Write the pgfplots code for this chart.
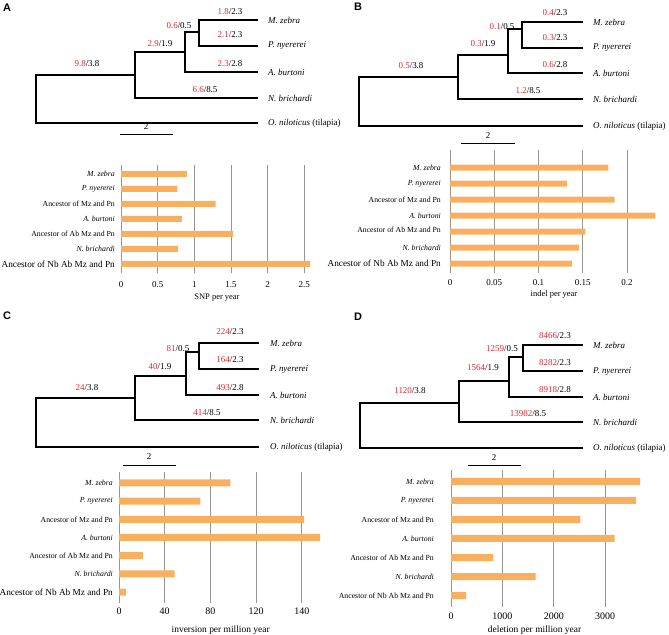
\documentclass[border=0pt]{standalone}
\usepackage{fontspec}
\setmainfont{Liberation Serif}
\newfontfamily\panelfont{Liberation Sans}
\usepackage{pgfplots}
\pgfplotsset{compat=1.18}

\definecolor{brred}{RGB}{226,38,48}
\definecolor{barfill}{RGB}{248,176,96}
\definecolor{gridgray}{RGB}{150,150,150}

% shared look of the four rate charts
\pgfplotsset{
  rates/.style={
    xbar, scale only axis, anchor=north west, clip=false,
    axis line style={draw=none}, major tick length=0pt,
    xmajorgrids, grid style={gridgray, line width=0.7bp},
    y dir=reverse, ytick={0,...,6}, xmin=0,
    yticklabel style={font=\fontsize{7.8}{9}\selectfont, inner sep=0pt},
    xticklabel style={font=\fontsize{9}{10}\selectfont, inner sep=0pt},
    /pgf/number format/assume math mode=true,
    xlabel style={font=\fontsize{8.5}{10}\selectfont, at={(axis description cs:0.5,0)}, anchor=center},
  },
  tree/.style={black, line width=1.2bp, unbounded coords=jump, mark=none, line join=miter},
}
\newcommand{\bl}[4]{\node[font=\fontsize{9}{10}\selectfont] at (axis cs:#1,#2) {\textcolor{brred}{#3}/#4};}
\newcommand{\tip}[3]{\node[font=\fontsize{9}{10}\selectfont, anchor=west, inner sep=0pt] at (axis cs:#1,#2) {#3};}
\newcommand{\biglab}[1]{{\fontsize{9.3}{10}\selectfont #1}}

\begin{document}
\begin{tikzpicture}
\path[use as bounding box] (0,0) rectangle (669bp,635bp);

% canvas for the four trees, pixel coordinates
\begin{axis}[at={(0,0)}, anchor=south west, scale only axis, width=669bp, height=635bp,
  xmin=0, xmax=669, ymin=0, ymax=635, y dir=reverse, hide axis, clip=false]
\addplot[tree] coordinates {(258,123)(36,123)(36,75)(135,75) (nan,nan)
  (258,98)(135,98)(135,52)(185,52) (nan,nan) (258,72)(185,72)(185,32)(199,32) (nan,nan)
  (258,46)(199,46)(199,20)(258,20)};
\addplot[tree] coordinates {(583,126)(359,126)(359,77)(458,77) (nan,nan)
  (583,99)(458,99)(458,55)(508,55) (nan,nan) (583,73)(508,73)(508,29)(522,29) (nan,nan)
  (583,48)(522,48)(522,22)(583,22)};
\addplot[tree] coordinates {(259,447)(36,447)(36,398)(135,398) (nan,nan)
  (259,420)(135,420)(135,376)(186,376) (nan,nan) (259,395)(186,395)(186,352)(199,352) (nan,nan)
  (259,369)(199,369)(199,343)(259,343)};
\addplot[tree] coordinates {(583,448)(360,448)(360,403)(459,403) (nan,nan)
  (583,422)(459,422)(459,381)(509,381) (nan,nan) (583,397)(509,397)(509,357)(523,357) (nan,nan)
  (583,371)(523,371)(523,345)(583,345)};
% scale bars
\addplot[black, line width=1bp] coordinates {(120,135)(173,135)};
\addplot[black, line width=1bp] coordinates {(461,144)(515,144)};
\addplot[black, line width=1bp] coordinates {(123,465)(176,465)};
\addplot[black, line width=1bp] coordinates {(468,465)(521,465)};
\node[font=\fontsize{9}{10}\selectfont] at (axis cs:146,127) {2};
\node[font=\fontsize{9}{10}\selectfont] at (axis cs:488,136) {2};
\node[font=\fontsize{9}{10}\selectfont] at (axis cs:149,457) {2};
\node[font=\fontsize{9}{10}\selectfont] at (axis cs:494,458) {2};

% panel letters
\node[font=\panelfont\fontsize{11}{12}\bfseries\selectfont] at (axis cs:7,8) {A};
\node[font=\panelfont\fontsize{11}{12}\bfseries\selectfont] at (axis cs:358,7) {B};
\node[font=\panelfont\fontsize{11}{12}\bfseries\selectfont] at (axis cs:7,316) {C};
\node[font=\panelfont\fontsize{11}{12}\bfseries\selectfont] at (axis cs:358,317) {D};

% tree A
\tip{268}{20}{\textit{M. zebra}} \tip{268}{46}{\textit{P. nyererei}}
\tip{268}{72}{\textit{A. burtoni}} \tip{268}{98}{\textit{N. brichardi}}
\tip{268}{123}{\textit{O. niloticus} (tilapia)}
\bl{230}{12}{1.8}{2.3} \bl{230}{35}{2.1}{2.3} \bl{230}{64}{2.3}{2.8}
\bl{205}{90}{6.6}{8.5} \bl{179}{26}{0.6}{0.5} \bl{160}{44}{2.9}{1.9} \bl{87}{64}{9.8}{3.8}
% tree B
\tip{593}{22}{\textit{M. zebra}} \tip{593}{48}{\textit{P. nyererei}}
\tip{593}{73}{\textit{A. burtoni}} \tip{593}{99}{\textit{N. brichardi}}
\tip{593}{126}{\textit{O. niloticus} (tilapia)}
\bl{555}{13}{0.4}{2.3} \bl{555}{38}{0.3}{2.3} \bl{555}{65}{0.6}{2.8}
\bl{528}{91}{1.2}{8.5} \bl{502}{27}{0.1}{0.5} \bl{483}{44}{0.3}{1.9} \bl{411}{66}{0.5}{3.8}
% tree C
\tip{270}{343}{\textit{M. zebra}} \tip{270}{369}{\textit{P. nyererei}}
\tip{270}{395}{\textit{A. burtoni}} \tip{270}{420}{\textit{N. brichardi}}
\tip{270}{447}{\textit{O. niloticus} (tilapia)}
\bl{230}{332}{224}{2.3} \bl{230}{360}{164}{2.3} \bl{230}{388}{493}{2.8}
\bl{207}{413}{414}{8.5} \bl{178}{349}{81}{0.5} \bl{160}{367}{40}{1.9} \bl{87}{388}{24}{3.8}
% tree D
\tip{593}{345}{\textit{M. zebra}} \tip{593}{371}{\textit{P. nyererei}}
\tip{593}{397}{\textit{A. burtoni}} \tip{593}{422}{\textit{N. brichardi}}
\tip{593}{448}{\textit{O. niloticus} (tilapia)}
\bl{555}{336}{8466}{2.3} \bl{555}{363}{8282}{2.3} \bl{555}{390}{8918}{2.8}
\bl{528}{414}{13982}{8.5} \bl{502}{349}{1259}{0.5} \bl{483}{368}{1564}{1.9} \bl{410}{391}{1120}{3.8}
\end{axis}

% A: SNP per year
\begin{axis}[rates, at={(121bp,470bp)}, width=192bp, height=108bp,
  xmax=2.62, ymin=-0.6, ymax=6.6, bar width=6bp,
  xtick={0,0.5,1,1.5,2,2.5}, xticklabels={0,0.5,1,1.5,2,2.5},
  yticklabels={\textit{M. zebra},\textit{P. nyererei},Ancestor of Mz and Pn,\textit{A. burtoni},
    Ancestor of Ab Mz and Pn,\textit{N. brichardi},\biglab{Ancestor of Nb Ab Mz and Pn}},
  yticklabel style={xshift=-6bp}, xticklabel style={yshift=-8.5bp},
  xlabel={SNP per year}, xlabel style={yshift=-25bp}]
\addplot[fill=barfill, draw=none] coordinates {(0.90,0) (0.77,1) (1.29,2) (0.83,3) (1.53,4) (0.78,5) (2.58,6)};
\end{axis}

% B: indel per year
\begin{axis}[rates, at={(450bp,485bp)}, width=208bp, height=123.2bp,
  xmax=0.235, ymin=-1.1, ymax=6.6, bar width=6bp,
  xtick={0,0.05,0.1,0.15,0.2}, xticklabels={0,0.05,0.1,0.15,0.2},
  yticklabels={\textit{M. zebra},\textit{P. nyererei},Ancestor of Mz and Pn,\textit{A. burtoni},
    \raisebox{4bp}{Ancestor of Ab Mz and Pn},\textit{N. brichardi},\biglab{Ancestor of Nb Ab Mz and Pn}},
  yticklabel style={xshift=-9bp}, xticklabel style={yshift=-6bp},
  xlabel={indel per year}, xlabel style={yshift=-21.5bp}]
\addplot[fill=barfill, draw=none] coordinates {(0.179,0) (0.132,1) (0.186,2) (0.232,3) (0.153,4) (0.146,5) (0.138,6)};
\end{axis}

% C: inversion per million year
\begin{axis}[rates, at={(119bp,163bp)}, width=203.4bp, height=131bp,
  xmax=178, ymin=-0.6, ymax=6.6, bar width=7bp,
  xtick={0,40,80,120,160}, xticklabels={0,40,80,120,140},
  xticklabel style={font=\fontsize{10}{11}\selectfont, yshift=-4.5bp},
  yticklabels={\textit{M. zebra},\textit{P. nyererei},Ancestor of Mz and Pn,\textit{A. burtoni},
    Ancestor of Ab Mz and Pn,\textit{N. brichardi},\biglab{Ancestor of Nb Ab Mz and Pn}},
  yticklabel style={xshift=-6bp},
  xlabel={inversion per million year}, xlabel style={font=\fontsize{9.5}{11}\selectfont, yshift=-27bp}]
\addplot[fill=barfill, draw=none] coordinates {(97.4,0) (71.3,1) (162,2) (176,3) (21,4) (48.7,5) (6.3,6)};
\end{axis}

% D: deletion per million year
\begin{axis}[rates, at={(451bp,165bp)}, width=191.2bp, height=137bp,
  xmax=3720, ymin=-0.6, ymax=6.6, bar width=7bp,
  xtick={0,1000,2000,3000}, xticklabels={0,1000,2000,3000},
  xticklabel style={font=\fontsize{10}{11}\selectfont, yshift=-5.5bp},
  yticklabels={\textit{M. zebra},\textit{P. nyererei},Ancestor of Mz and Pn,\textit{A. burtoni},
    Ancestor of Ab Mz and Pn,\textit{N. brichardi},Ancestor of Nb Ab Mz and Pn},
  yticklabel style={xshift=-17bp},
  xlabel={deletion per million year}, xlabel style={font=\fontsize{9.5}{11}\selectfont, yshift=-23bp, xshift=-12bp}]
\addplot[fill=barfill, draw=none] coordinates {(3681,0) (3601,1) (2518,2) (3185,3) (823,4) (1645,5) (295,6)};
\end{axis}
\end{tikzpicture}
\end{document}
